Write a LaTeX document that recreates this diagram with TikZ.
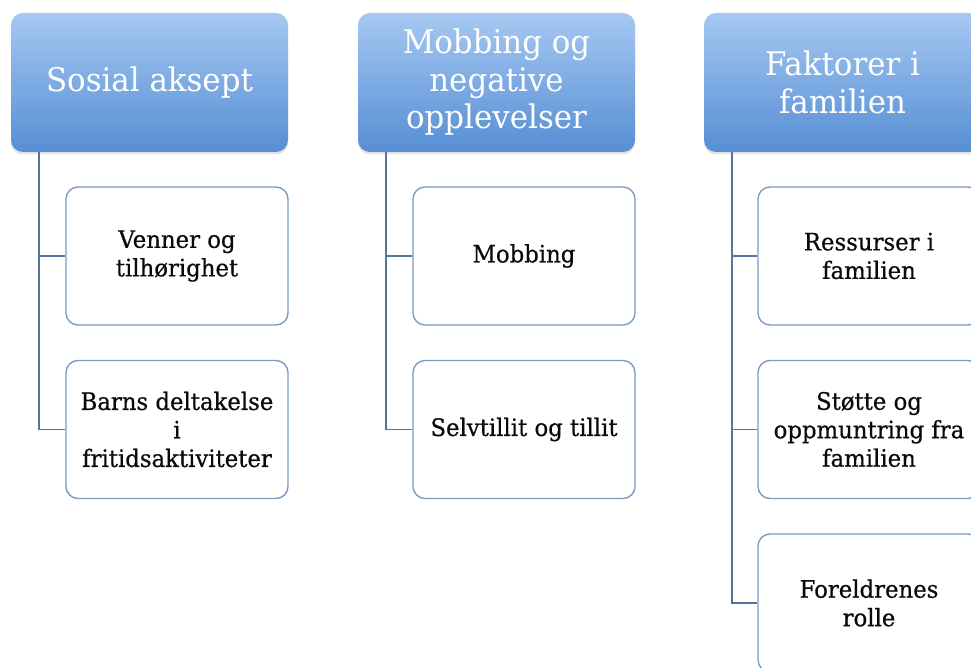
\documentclass[tikz,border=0pt]{standalone}
\usepackage{fontspec}
\setmainfont{DejaVu Serif}[FakeStretch=0.95]
\newfontfamily\childfont{DejaVu Serif}[FakeStretch=0.95,FakeBold=0.5]
\usetikzlibrary{shadows}
\definecolor{hdtop}{RGB}{166,200,242}
\definecolor{hdbot}{RGB}{86,142,212}
\definecolor{boxline}{RGB}{125,155,195}
\definecolor{connline}{RGB}{85,115,155}
\definecolor{txtdark}{RGB}{10,10,10}
\tikzset{
  header/.style={rounded corners=12pt, top color=hdtop, bottom color=hdbot,
    draw=none, minimum width=277pt, minimum height=139pt, inner sep=0pt,
    text=white, align=center, font=\fontsize{32.5}{37.5}\selectfont,
    drop shadow={opacity=0.22, shadow xshift=0pt, shadow yshift=-2.5pt}},
  child/.style={rounded corners=12pt, draw=boxline, line width=1.4pt, fill=white,
    minimum width=222pt, minimum height=138pt, inner sep=0pt,
    text=txtdark, align=center, font=\childfont\fontsize{24}{28.5}\selectfont},
  conn/.style={draw=connline, line width=1.5pt}
}
\begin{document}
\begin{tikzpicture}[x=1pt,y=-1pt]
\useasboundingbox[fill=white] (0,0) rectangle (971,668);
% headers
\node[header] (h1) at (149.5,82.5) {Sosial aksept};
\node[header] (h2) at (496.5,82.5) {Mobbing og\\negative\\opplevelser};
\node[header] (h3) at (842.5,82.5) {Faktorer i\\familien};
% children
\node[child] (c11) at (177,256) {Venner og\\tilhørighet};
\node[child] (c12) at (177,429.5) {Barns deltakelse\\i\\fritidsaktiviteter};
\node[child] (c21) at (524,256) {Mobbing};
\node[child] (c22) at (524,429.5) {Selvtillit og tillit};
\node[child] (c31) at (869,256) {Ressurser i\\familien};
\node[child] (c32) at (869,429.5) {Støtte og\\oppmuntring fra\\familien};
\node[child] (c33) at (869,603) {Foreldrenes\\rolle};
% connectors
\draw[conn] ([xshift=28pt]h1.south west) |- (c12.west);
\draw[conn] ([xshift=28pt]h1.south west |- c11.west) -- (c11.west);
\draw[conn] ([xshift=28pt]h2.south west) |- (c22.west);
\draw[conn] ([xshift=28pt]h2.south west |- c21.west) -- (c21.west);
\draw[conn] ([xshift=28pt]h3.south west) |- (c33.west);
\draw[conn] ([xshift=28pt]h3.south west |- c31.west) -- (c31.west);
\draw[conn] ([xshift=28pt]h3.south west |- c32.west) -- (c32.west);
\end{tikzpicture}
\end{document}
